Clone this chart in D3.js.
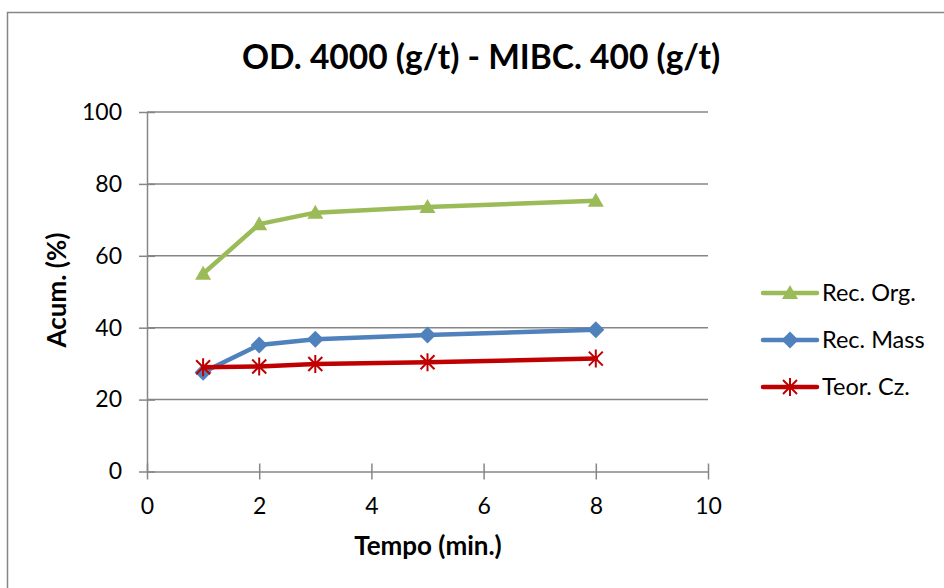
<!DOCTYPE html>
<html>
<head>
<meta charset="utf-8">
<script src="https://cdn.jsdelivr.net/npm/d3@7"></script>
<style>
  html, body { margin: 0; padding: 0; background: #fff; }
  svg { display: block; font-family: Lato, "Open Sans", sans-serif; }
</style>
</head>
<body>
<svg id="chart" width="944" height="588"></svg>
<script>
// Flotation time points (minutes)
const tempo = [1, 2, 3, 5, 8];
// Cumulative recoveries (%)
const recOrg  = [55.0, 68.8, 72.0, 73.6, 75.3];
const recMass = [27.6, 35.2, 36.8, 38.0, 39.4];
const teorCz  = [29.0, 29.2, 29.9, 30.4, 31.4];

const seriesNames = ["Rec. Org.", "Rec. Mass", "Teor. Cz."];
const seriesColors = ["#9BBB59", "#4F81BD", "#C00000"];
const seriesMarkers = ["triangle", "diamond", "star"];
const seriesValues = [recOrg, recMass, teorCz];

const xTicks = [0, 2, 4, 6, 8, 10];
const yTicks = [0, 20, 40, 60, 80, 100];

const svg = d3.select("#chart");
const FONT = "Lato, sans-serif";

// outer frame
svg.append("rect")
  .attr("x", 7.5).attr("y", 12.5)
  .attr("width", 960).attr("height", 600)
  .attr("fill", "none").attr("stroke", "#868686").attr("stroke-width", 1.5);

const x = d3.scaleLinear().domain([0, 10]).range([147, 708]);
const y = d3.scaleLinear().domain([0, 100]).range([471.5, 112]);

// horizontal gridlines
svg.append("g").selectAll("line")
  .data(yTicks.filter(d => d > 0))
  .join("line")
  .attr("x1", x(0)).attr("x2", x(10))
  .attr("y1", d => y(d)).attr("y2", d => y(d))
  .attr("stroke", "#868686").attr("stroke-width", 1.5);

// y axis
const yAxis = svg.append("g")
  .attr("transform", `translate(${x(0)},0)`)
  .call(d3.axisLeft(y).tickValues(yTicks).tickSize(8).tickPadding(17).tickSizeOuter(0));
yAxis.select(".domain").attr("stroke", "#868686").attr("stroke-width", 1.5);
yAxis.selectAll(".tick line").attr("x1", 8).attr("x2", -8)
  .attr("stroke", "#868686").attr("stroke-width", 1.5);
yAxis.selectAll(".tick text")
  .attr("font-family", FONT).attr("font-size", 23).attr("fill", "#000");

// x axis (ticks cross the axis line)
const xAxis = svg.append("g")
  .attr("transform", `translate(0,${y(0)})`)
  .call(d3.axisBottom(x).tickValues(xTicks).tickSize(8).tickPadding(18).tickSizeOuter(0));
xAxis.select(".domain").attr("stroke", "#868686").attr("stroke-width", 1.5);
xAxis.selectAll(".tick line").attr("y1", -8).attr("stroke", "#868686").attr("stroke-width", 1.5);
xAxis.selectAll(".tick text")
  .attr("font-family", FONT).attr("font-size", 23).attr("fill", "#000");

// marker shapes
function drawMarker(g, type, color) {
  if (type === "triangle") {
    g.append("path").attr("d", "M0,-8 L8,6 L-8,6 Z").attr("fill", color);
  } else if (type === "diamond") {
    g.append("path").attr("d", "M0,-8.5 L8.5,0 L0,8.5 L-8.5,0 Z").attr("fill", color);
  } else {
    g.append("path")
      .attr("d", "M-7,-7 L7,7 M-7,7 L7,-7 M0,-9 L0,9")
      .attr("stroke", color).attr("stroke-width", 2).attr("fill", "none");
  }
}

const line = d3.line().x(d => x(d[0])).y(d => y(d[1]));

seriesValues.forEach((vals, i) => {
  const pts = tempo.map((t, j) => [t, vals[j]]);
  const g = svg.append("g");
  g.append("path")
    .attr("d", line(pts))
    .attr("fill", "none")
    .attr("stroke", seriesColors[i])
    .attr("stroke-width", 4.5)
    .attr("stroke-linejoin", "round")
    .attr("stroke-linecap", "round");
  pts.forEach(p => {
    const m = g.append("g").attr("transform", `translate(${x(p[0])},${y(p[1])})`);
    drawMarker(m, seriesMarkers[i], seriesColors[i]);
  });
});

// title
svg.append("text")
  .attr("x", 481).attr("y", 69)
  .attr("text-anchor", "middle")
  .attr("font-family", FONT)
  .attr("font-weight", "bold")
  .attr("font-size", 33.5)
  .text("OD. 4000 (g/t) - MIBC. 400 (g/t)");

// axis titles
svg.append("text")
  .attr("x", 428).attr("y", 555)
  .attr("text-anchor", "middle")
  .attr("font-family", FONT)
  .attr("font-weight", "bold")
  .attr("font-size", 26)
  .text("Tempo (min.)");

svg.append("text")
  .attr("transform", "translate(66,290) rotate(-90)")
  .attr("text-anchor", "middle")
  .attr("font-family", FONT)
  .attr("font-weight", "bold")
  .attr("font-size", 26)
  .text("Acum. (%)");

// legend
const legendY = [293, 340, 387];
seriesNames.forEach((name, i) => {
  const g = svg.append("g").attr("transform", `translate(0,${legendY[i]})`);
  g.append("line")
    .attr("x1", 763).attr("x2", 817)
    .attr("stroke", seriesColors[i]).attr("stroke-width", 4.5)
    .attr("stroke-linecap", "round");
  const m = g.append("g").attr("transform", "translate(790,0)");
  drawMarker(m, seriesMarkers[i], seriesColors[i]);
  g.append("text")
    .attr("x", 822).attr("y", 8)
    .attr("font-family", FONT)
    .attr("font-size", 23.5)
    .text(name);
});
</script>
</body>
</html>
